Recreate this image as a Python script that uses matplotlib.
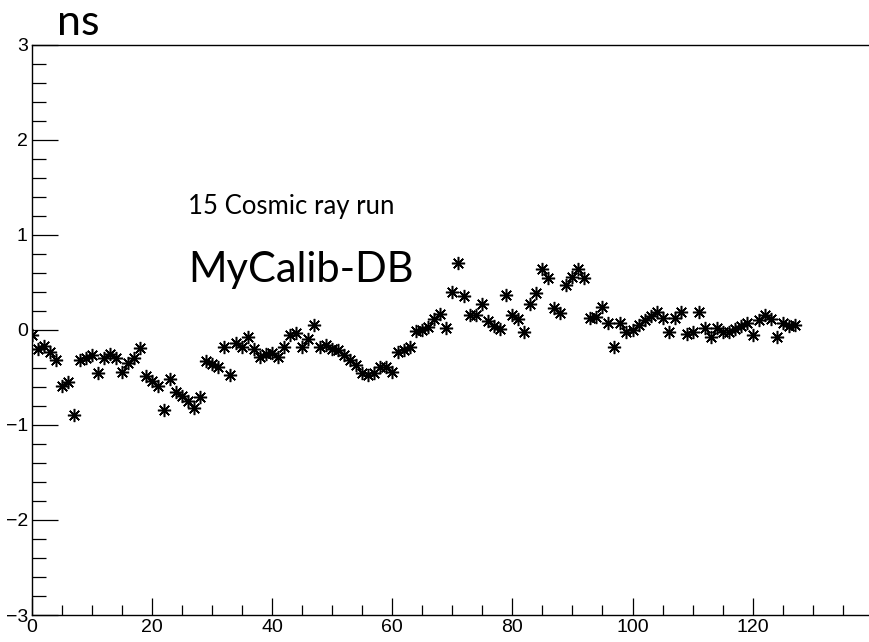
import numpy as np
import matplotlib.pyplot as plt
from matplotlib.ticker import MultipleLocator

# channel number and measured time offset (ns)
channels = list(range(128))
offsets = [
    -0.06, -0.20, -0.17, -0.23, -0.32, -0.59, -0.55, -0.90, -0.32, -0.30,
    -0.27, -0.46, -0.30, -0.25, -0.30, -0.44, -0.35, -0.30, -0.19, -0.49,
    -0.54, -0.59, -0.84, -0.52, -0.65, -0.70, -0.75, -0.82, -0.71, -0.33,
    -0.36, -0.39, -0.18, -0.48, -0.14, -0.18, -0.08, -0.20, -0.29, -0.26,
    -0.24, -0.29, -0.18, -0.06, -0.03, -0.18, -0.10, 0.05, -0.18, -0.16,
    -0.20, -0.21, -0.27, -0.32, -0.37, -0.45, -0.48, -0.46, -0.39, -0.39,
    -0.44, -0.23, -0.21, -0.18, -0.01, 0.00, 0.03, 0.11, 0.17, 0.02,
    0.40, 0.70, 0.35, 0.15, 0.16, 0.27, 0.09, 0.04, 0.01, 0.37,
    0.15, 0.11, -0.02, 0.27, 0.39, 0.64, 0.54, 0.23, 0.18, 0.47,
    0.56, 0.64, 0.54, 0.12, 0.13, 0.24, 0.07, -0.18, 0.07, -0.02,
    0.00, 0.05, 0.10, 0.14, 0.19, 0.12, -0.02, 0.12, 0.19, -0.04,
    -0.02, 0.19, 0.02, -0.08, 0.02, -0.02, -0.02, 0.01, 0.04, 0.07,
    -0.06, 0.10, 0.16, 0.11, -0.08, 0.07, 0.04, 0.05,
]

x_ticks = [0, 20, 40, 60, 80, 100, 120]
y_ticks = [-3, -2, -1, 0, 1, 2, 3]
run_label = "15 Cosmic ray run"
db_label = "MyCalib-DB"
unit_label = "ns"

W, H = 869, 642
fig = plt.figure(figsize=(W / 100, H / 100), dpi=100)
# frame runs off the right edge of the canvas
ax = fig.add_axes([32 / W, 27 / H, 1 - 32 / W, (615 - 44.5) / H])

x = np.array(channels)
y = np.array(offsets)
# asterisk markers, root style 3
ax.plot(x, y, linestyle='none', marker=(8, 2, 0), markersize=9.5,
        markeredgewidth=1.1, color='black')
ax.plot(x, y, linestyle='none', marker='o', markersize=3, color='black')

ax.set_xlim(0, (W - 32) / 6.005)
ax.set_ylim(-3, 3)
ax.set_xticks(x_ticks)
ax.set_yticks(y_ticks)
ax.xaxis.set_minor_locator(MultipleLocator(5))
ax.yaxis.set_minor_locator(MultipleLocator(0.2))

ax.tick_params(axis='x', which='major', direction='in', length=12.5, width=0.9,
               labelsize=14, pad=3)
ax.tick_params(axis='x', which='minor', direction='in', length=7, width=0.9)
ax.tick_params(axis='y', which='major', direction='in', length=19, width=0.9,
               labelsize=14, pad=3)
ax.tick_params(axis='y', which='minor', direction='in', length=10, width=0.9)
for lab in ax.get_xticklabels() + ax.get_yticklabels():
    lab.set_fontfamily('Liberation Sans')

ax.spines['right'].set_visible(False)
for s in ['left', 'bottom', 'top']:
    ax.spines[s].set_linewidth(1.0)

ax.text(26, 1.22, run_label, fontsize=18.5, family='Lato', va='baseline')
ax.text(26, 0.5, db_label, fontsize=30, family='Lato', va='baseline')
fig.text(57 / W, 1 - 35 / H, unit_label, fontsize=31, family='Lato', va='baseline')

fig.savefig('out.png', dpi=100)
